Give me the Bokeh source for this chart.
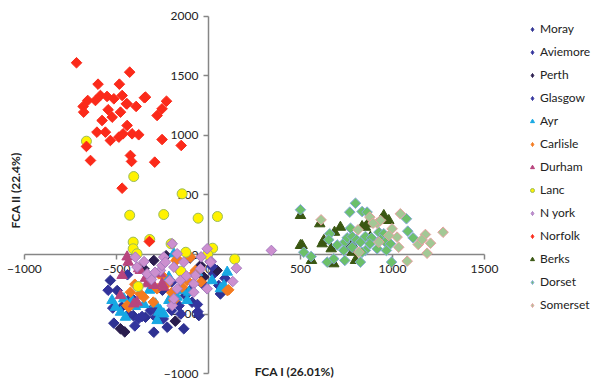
import numpy as np
from bokeh.plotting import figure
from bokeh.models import LinearAxis, Legend, LegendItem, Label, FixedTicker, Range1d
from bokeh.embed import file_html
from bokeh.resources import INLINE

# ---- data (FCA I, FCA II) ----
moray_x = [-533, -514, -409, -342, -297, -224, -134, -52, -496, 65, -125, -89, -470, -250]
moray_y = [-218, -577, -513, -527, -653, -611, -624, -513, -303, -331, -345, -401, -440, -300]
aviemore_x = [-545, -380, -433, -361, -315, -58, 56, 29, -288, -246, -200, -160, -30, -420]
aviemore_y = [-300, -540, -500, -521, -470, -480, -260, -162, -527, -541, -470, -430, -250, -360]
perth_x = [-478, -297, 47, -43, -25, -455, -180, -100, 10, -230, -350]
perth_y = [-624, -50, -134, -92, -190, -650, -560, -30, -60, -10, -120]
glasgow_x = [-520, -400, -300, -150, -60, 20, 90, -440, -200, -100]
glasgow_y = [-450, -600, -450, -500, -420, -100, -200, -170, -230, -300]
ayr_x = [-524, -505, -451, -415, -397, -288, -261, -279, -243, -170, -143, -116, 102, 84, 65,
         -188, -460, -478, -270, -215, -107, -215, -350, -320, -60, 20]
ayr_y = [-386, -443, -527, -386, -437, -415, -471, -555, -499, -359, -303, -386, -148, -260, -288,
         6, -372, -485, -485, -386, -317, -190, -420, -300, -150, -220]
carlisle_x = [-176, -98, -80, -116, -143, -224, -270, -279, -351, -433, -424, -188, -152, 110, -252,
              -370, -442, -170, -71, 102, -300, -200, -320, -40, -400]
carlisle_y = [-50, -22, -162, -218, -274, -246, -162, -288, -359, -443, -317, -386, -148, -297, -176,
              -331, -429, -36, -134, -302, -400, -320, -230, -230, -250]
durham_x = [-436, -469, -370, -333, -297, -261, -243, -478, -388, -442, -379, -315, -342, -252, -406]
durham_y = [-64, -176, -134, -246, -260, -162, -274, -345, -401, -20, -120, -218, -200, -246, -415]
lanc_x = [-663, -406, -143, -428, -243, -56, 49, -409, -319, -409, -388, -203, -123, 23, -4, 143, -150, -382]
lanc_y = [952, 655, 510, 330, 336, 305, 319, 104, 126, 48, 6, 90, 19, 53, 0, -39, -140, -269]
nyork_x = [-197, -7, 16, 152, 132, -43, -7, -397, -388, -310, -243, -261, -210, -188, -152, -80, -80,
           -197, 11, -252, -134, -333, -234, -71, -170, -188, -170, 342, -350, -290, -120, -40]
nyork_y = [90, 48, -59, -115, -227, -120, -288, -22, -106, -210, -22, -134, -218, -106, -218, -246, -317,
           -429, -64, -92, -64, -162, -64, -176, -288, -372, 6, 34, -60, -150, -180, -20]
norfolk_x = [-717, -428, -600, -484, -656, -681, -678, -614, -587, -551, -514, -469, -446, -442, -348,
             -342, -228, -252, -279, -545, -393, -578, -523, -478, -606, -560, -533, -487, -442, -415,
             -379, -464, -252, -148, -663, -641, -424, -418, -292, -469, -321]
norfolk_y = [1611, 1532, 1431, 1431, 1294, 1244, 1196, 1294, 1336, 1328, 1308, 1336, 1266, 1266, 1317,
             1322, 1288, 1224, 1168, 1216, 1244, 1126, 1154, 1196, 1028, 1028, 958, 986, 1084, 1014,
             1006, 1014, 966, 916, 908, 790, 832, 782, 776, 557, 109]
berks_x = [500, 605, 717, 685, 618, 627, 667, 681, 560, 509, 799, 866, 835, 953, 938, 980, 880, 781,
           754, 781, 853, 500]
berks_y = [328, 258, 229, 187, 90, 118, 48, -78, -50, 76, -50, 258, 235, 328, 291, 286, 146, 90,
           61, 19, 229, 76]
dorset_x = [799, 768, 835, 862, 500, 659, 654, 741, 754, 781, 804, 826, 853, 886, 877, 926, 953, 935,
            962, 989, 967, 917, 853, 835, 781, 735, 741, 681, 645, 826, 518, 558, 995, 1076, 1083,
            1112, 772, 700]
dorset_y = [431, 356, 361, 356, 376, 174, 124, 104, 140, 151, 124, 104, 151, 140, 90, 187, 174, 124,
            104, 90, 34, 48, 34, 19, 61, 34, -50, -36, -64, -64, 19, -17, -64, 300, 196,
            140, 221, 80]
somerset_x = [612, 877, 917, 935, 1043, 998, 1025, 1034, 1179, 1140, 1160, 1207, 1188, 1275, 1080,
              817, 926, 813, 895, 980]
somerset_y = [291, 314, 263, 286, 342, 216, 146, 61, 168, 84, 124, 95, 11, 187, -56,
              19, 104, 207, 263, 160]

x_ticks = [-1000, -500, 0, 500, 1000, 1500]
y_ticks = [-1000, -500, 0, 500, 1000, 1500, 2000]

series = [
    ("Moray", moray_x, moray_y, "diamond", "#2E3192", "#2E3192"),
    ("Aviemore", aviemore_x, aviemore_y, "diamond", "#32329C", "#32329C"),
    ("Perth", perth_x, perth_y, "diamond", "#2A1D4E", "#2A1D4E"),
    ("Glasgow", glasgow_x, glasgow_y, "diamond", "#34359E", "#34359E"),
    ("Ayr", ayr_x, ayr_y, "triangle", "#17A8E3", "#17A8E3"),
    ("Carlisle", carlisle_x, carlisle_y, "diamond", "#F47B20", "#F47B20"),
    ("Durham", durham_x, durham_y, "triangle", "#B8457E", "#B8457E"),
    ("Lanc", lanc_x, lanc_y, "circle", "#FFF200", "#9BBB59"),
    ("N york", nyork_x, nyork_y, "diamond", "#CC8FCF", "#A57BBF"),
    ("Norfolk", norfolk_x, norfolk_y, "diamond", "#FB2A1A", "#FB2A1A"),
    ("Berks", berks_x, berks_y, "triangle", "#3A5712", "#3A5712"),
    ("Dorset", dorset_x, dorset_y, "diamond", "#6CC06A", "#86A9DB"),
    ("Somerset", somerset_x, somerset_y, "diamond", "#A3C895", "#E8A0A0"),
]

# frame covers whole canvas; the visible axes are bounded to the data extents
p = figure(width=592, height=381, x_range=Range1d(-1130, 2087), y_range=Range1d(-1067, 2134),
           x_axis_location=None, y_axis_location=None, toolbar_location=None,
           output_backend="svg", min_border=0)
p.xgrid.visible = False
p.ygrid.visible = False
p.outline_line_color = None

FONT = "Lato"
xaxis = LinearAxis(fixed_location=0, ticker=FixedTicker(ticks=x_ticks), bounds=(x_ticks[0], x_ticks[-1]))
yaxis = LinearAxis(fixed_location=0, ticker=FixedTicker(ticks=y_ticks), bounds=(y_ticks[0], y_ticks[-1]))
for ax in (xaxis, yaxis):
    ax.axis_line_color = "#868686"
    ax.axis_line_width = 1.5
    ax.major_tick_line_color = "#868686"
    ax.major_tick_line_width = 1.5
    ax.major_tick_in = 0
    ax.major_tick_out = 5
    ax.minor_tick_line_color = None
    ax.major_label_text_font = FONT
    ax.major_label_text_font_size = "12px"
    ax.major_label_text_color = "#222222"
    ax.level = "underlay"
p.add_layout(xaxis, "below")
p.add_layout(yaxis, "left")

items = []
for name, xs, ys, kind, fill, line in series:
    style = dict(fill_color=fill, line_color=line, line_width=1)
    if kind == "diamond":
        p.scatter(xs, ys, marker="square", angle=np.pi / 4, size=7.5, **style)
        proxy = p.scatter(xs[:1], ys[:1], marker="diamond", size=12, visible=False, **style)
    elif kind == "triangle":
        p.scatter(xs, ys, marker="triangle", size=10.5, **style)
        proxy = p.scatter(xs[:1], ys[:1], marker="triangle", size=11, visible=False, **style)
    else:
        p.scatter(xs, ys, marker="circle", size=10, **style)
        proxy = p.scatter(xs[:1], ys[:1], marker="circle", size=9, visible=False, **style)
    items.append(LegendItem(label=name, renderers=[proxy]))

legend = Legend(items=items, location=(527, 69))
legend.border_line_color = None
legend.background_fill_alpha = 0
legend.inactive_fill_alpha = 0
legend.label_text_font = FONT
legend.label_text_font_size = "12px"
legend.label_text_color = "#222222"
legend.glyph_width = 10
legend.glyph_height = 14
legend.label_height = 14
legend.spacing = 8
legend.padding = 0
legend.margin = 0
legend.label_standoff = 3
legend.click_policy = "none"
p.add_layout(legend)

p.add_layout(Label(x=467, y=-983, text="FCA I (26.01%)", text_align="center",
                   text_baseline="middle", text_font=FONT, text_font_style="bold",
                   text_font_size="12px", text_color="#222222"))
p.add_layout(Label(x=-1049, y=538, text="FCA II (22.4%)", text_align="center", angle=np.pi / 2,
                   text_baseline="middle", text_font=FONT, text_font_style="bold",
                   text_font_size="12px", text_color="#222222"))

open("out.html", "w").write(file_html(p, INLINE))
